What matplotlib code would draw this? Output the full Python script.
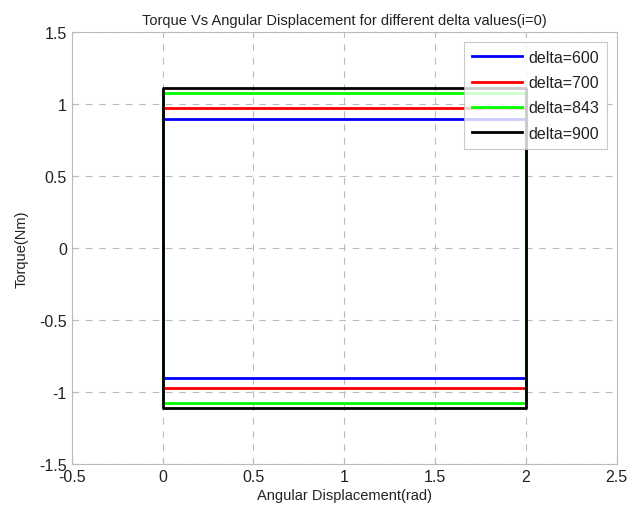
import matplotlib
matplotlib.use("Agg")
import matplotlib.pyplot as plt

plt.rcParams['font.family'] = ['Liberation Sans', 'DejaVu Sans']

# loop path: angle (rad)
angle = [0, 0, 2, 2, 0, 0]

labels = ["delta=600", "delta=700", "delta=843", "delta=900"]
colors = ["#0000ff", "#ff0000", "#00ff00", "#000000"]
torque = [
    [0, 0.90, 0.90, -0.90, -0.90, 0],
    [0, 0.97, 0.97, -0.97, -0.97, 0],
    [0, 1.075, 1.075, -1.075, -1.075, 0],
    [0, 1.11, 1.11, -1.11, -1.11, 0],
]

fig = plt.figure(figsize=(6.3, 5.1), dpi=100)
ax = fig.add_axes([0.114, 0.088, 0.865, 0.847])

for t, c, lab in zip(torque, colors, labels):
    ax.plot(angle, t, color=c, linewidth=2, label=lab)

ax.set_xlim(-0.5, 2.5)
ax.set_ylim(-1.5, 1.5)
ax.set_xticks([-0.5, 0, 0.5, 1, 1.5, 2, 2.5])
ax.set_xticklabels(["-0.5", "0", "0.5", "1", "1.5", "2", "2.5"])
ax.set_yticks([-1.5, -1, -0.5, 0, 0.5, 1, 1.5])
ax.set_yticklabels(["-1.5", "-1", "-0.5", "0", "0.5", "1", "1.5"])

# matlab style grid
ax.grid(True, color="#bbbbbb", linestyle=(0, (6, 6)), linewidth=0.8)
for s in ax.spines.values():
    s.set_color("#bbbbbb")
ax.tick_params(colors="#bbbbbb", labelcolor="#222222", labelsize=11.5, direction="in", length=4)

ax.set_title("Torque Vs Angular Displacement for different delta values(i=0)", fontsize=10.5, color="#222222")
ax.set_xlabel("Angular Displacement(rad)", fontsize=10.5, color="#222222", labelpad=3)
ax.set_ylabel("Torque(Nm)", fontsize=10.5, color="#222222", labelpad=8)

leg = ax.legend(loc="upper right", fontsize=11.5, handlelength=3.1, frameon=True, fancybox=False,
                borderaxespad=0.6, labelspacing=0.65, handletextpad=0.4, borderpad=0.5)
leg.get_frame().set_edgecolor("#bbbbbb")
leg.get_frame().set_linewidth(0.8)
for txt in leg.get_texts():
    txt.set_color("#222222")

fig.savefig("out.png", dpi=100)
